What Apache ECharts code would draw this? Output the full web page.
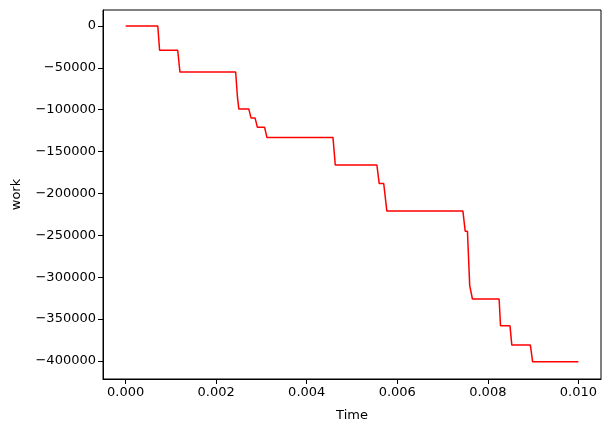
<!DOCTYPE html>
<html>
<head>
<meta charset="utf-8">
<script src="https://cdn.jsdelivr.net/npm/echarts@6/dist/echarts.min.js"></script>
<style>html,body{margin:0;padding:0;background:#fff}#chart{width:609px;height:432px}</style>
</head>
<body>
<div id="chart"></div>
<script>
var times = [0, 0.00071, 0.00075, 0.00115, 0.00120, 0.00243, 0.00247, 0.00250, 0.00272, 0.00277, 0.00286, 0.00291, 0.00307, 0.00312, 0.00458, 0.00463, 0.00555, 0.00560, 0.00570, 0.00577, 0.00745, 0.00750, 0.00755, 0.00760, 0.00766, 0.00825, 0.00828, 0.00849, 0.00853, 0.00894, 0.00899, 0.0100];
var work = [0, 0, -29000, -29000, -55000, -55000, -85000, -99000, -99000, -110000, -110000, -121000, -121000, -133000, -133000, -166000, -166000, -188000, -188000, -221000, -221000, -245000, -245000, -310000, -326000, -326000, -358000, -358000, -381000, -381000, -401000, -401000];
var xTicks = [0, 0.002, 0.004, 0.006, 0.008, 0.010];
var yTicks = [0, -50000, -100000, -150000, -200000, -250000, -300000, -350000, -400000];

var chart = echarts.init(document.getElementById('chart'));
var font = 'DejaVu Sans';
chart.setOption({
    animation: false,
    grid: {left: 103, right: 8, top: 10, bottom: 53, show: true, borderColor: '#000', borderWidth: 1},
    xAxis: {
        type: 'value', min: -0.0005, max: 0.0105,
        name: 'Time', nameLocation: 'middle', nameGap: 30,
        nameTextStyle: {color: '#000', fontSize: 13, fontFamily: font},
        axisLine: {show: true, onZero: false, lineStyle: {color: '#000'}},
        axisTick: {show: true, customValues: xTicks, length: 5, lineStyle: {color: '#000'}},
        axisLabel: {customValues: xTicks, color: '#000', fontSize: 13, fontFamily: font, margin: 7,
            formatter: function (v) { return v.toFixed(3); }},
        splitLine: {show: false}
    },
    yAxis: {
        type: 'value', min: -421500, max: 19100,
        name: 'work', nameLocation: 'middle', nameGap: 80,
        nameTextStyle: {color: '#000', fontSize: 13, fontFamily: font},
        axisLine: {show: true, onZero: false, lineStyle: {color: '#000'}},
        axisTick: {show: true, customValues: yTicks, length: 5, lineStyle: {color: '#000'}},
        axisLabel: {customValues: yTicks, color: '#000', fontSize: 13, fontFamily: font, margin: 7,
            formatter: function (v) { return v < 0 ? '\u2212' + (-v) : String(v); }},
        splitLine: {show: false}
    },
    series: [{
        type: 'line',
        data: times.map(function (t, i) { return [t, work[i]]; }),
        showSymbol: false,
        lineStyle: {color: '#ff0000', width: 1.5},
        itemStyle: {color: '#ff0000'}
    }]
});
</script>
</body>
</html>
